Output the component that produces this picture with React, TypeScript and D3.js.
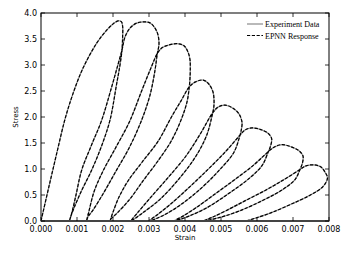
import React from "react";
import * as d3 from "d3";

// strain values are in units of 1e-3, stress as read off the plot
// each cycle: reload from residual strain, over the peak, unload to next residual
const cycle1 = [
  [0, 0], [0.22, 0.66], [0.45, 1.34], [0.667, 1.96], [0.889, 2.45], [1.167, 2.94],
  [1.547, 3.42], [1.825, 3.67], [2.0, 3.79], [2.147, 3.85], [2.236, 3.83], [2.269, 3.73],
  [2.267, 3.54], [2.25, 3.29], [2.194, 3.0], [2.097, 2.62], [1.917, 1.94], [1.681, 1.44],
  [1.408, 0.98], [1.111, 0.56], [0.917, 0.25], [0.833, 0.1], [0.79, 0],
];
const cycle2 = [
  [0.861, 0.17], [0.972, 0.5], [1.131, 0.98], [1.403, 1.46], [1.686, 1.94], [1.972, 2.6],
  [2.111, 2.94], [2.25, 3.29], [2.333, 3.54], [2.472, 3.71], [2.639, 3.8], [2.833, 3.83],
  [3.028, 3.81], [3.167, 3.71], [3.25, 3.58], [3.278, 3.42], [3.264, 3.33], [3.231, 3.22],
  [3.167, 2.9], [3.028, 2.42], [2.778, 1.91], [2.444, 1.4], [2.083, 0.96], [1.722, 0.52],
  [1.444, 0.21], [1.306, 0.08], [1.264, 0],
];
const cycle3 = [
  [1.333, 0.19], [1.472, 0.56], [1.722, 0.96], [2.083, 1.42], [2.458, 1.91], [2.806, 2.52],
  [3.028, 2.9], [3.231, 3.22], [3.361, 3.33], [3.528, 3.38], [3.778, 3.41], [3.972, 3.37],
  [4.083, 3.25], [4.139, 3.1], [4.147, 2.94], [4.139, 2.75], [4.119, 2.58], [4.056, 2.29],
  [3.889, 1.94], [3.611, 1.53], [3.222, 1.13], [2.833, 0.77], [2.444, 0.4], [2.111, 0.15],
  [1.944, 0.04], [1.917, 0],
];
const cycle4 = [
  [2.0, 0.17], [2.167, 0.46], [2.417, 0.77], [2.806, 1.13], [3.25, 1.53], [3.639, 2.02],
  [3.889, 2.31], [4.119, 2.58], [4.278, 2.67], [4.508, 2.71], [4.667, 2.63], [4.778, 2.48],
  [4.806, 2.33], [4.8, 2.19], [4.769, 2.08], [4.611, 1.665], [4.306, 1.25], [3.861, 0.833],
  [3.306, 0.417], [2.806, 0.146], [2.5, 0],
];
const cycle5 = [
  [2.667, 0.146], [3.0, 0.417], [3.528, 0.833], [4.028, 1.25], [4.417, 1.665], [4.769, 2.08],
  [4.917, 2.19], [5.111, 2.23], [5.333, 2.17], [5.5, 2.06], [5.583, 1.9], [5.569, 1.77],
  [5.528, 1.65], [5.361, 1.323], [4.972, 0.992], [4.5, 0.662], [3.917, 0.331], [3.417, 0.115],
  [3.0, 0],
];
const cycle6 = [
  [3.222, 0.115], [3.611, 0.331], [4.139, 0.662], [4.639, 0.992], [5.111, 1.323], [5.528, 1.65],
  [5.667, 1.75], [5.861, 1.79], [6.139, 1.75], [6.333, 1.67], [6.408, 1.58], [6.375, 1.44],
  [6.314, 1.333], [6.139, 1.065], [5.75, 0.8], [5.222, 0.533], [4.639, 0.267], [4.111, 0.094],
  [3.694, 0],
];
const cycle7 = [
  [3.944, 0.094], [4.333, 0.267], [4.861, 0.533], [5.389, 0.8], [5.889, 1.065], [6.314, 1.333],
  [6.472, 1.42], [6.694, 1.47], [6.972, 1.42], [7.167, 1.35], [7.278, 1.25], [7.264, 1.12],
  [7.194, 0.99], [7.056, 0.796], [6.694, 0.596], [6.167, 0.398], [5.528, 0.198], [4.972, 0.069],
  [4.5, 0],
];
const cycle8 = [
  [4.75, 0.069], [5.139, 0.198], [5.694, 0.398], [6.25, 0.596], [6.75, 0.796], [7.194, 0.99],
  [7.361, 1.06], [7.583, 1.08], [7.778, 1.04], [7.889, 0.94], [7.958, 0.83], [7.833, 0.662],
  [7.472, 0.496], [6.972, 0.331], [6.417, 0.165], [5.972, 0.058], [5.694, 0],
];

const xTicks = [0, 0.001, 0.002, 0.003, 0.004, 0.005, 0.006, 0.007, 0.008];
const yTicks = [0, 0.5, 1.0, 1.5, 2.0, 2.5, 3.0, 3.5, 4.0];
const seriesNames = ["Experiment Data", "EPNN Response"];

const W = 346;
const H = 260;
const left = 41, right = 329, top = 13, bottom = 221;
const tickFont = "DejaVu Sans, sans-serif";

export default function App() {
  const x = d3.scaleLinear().domain([0, 0.008]).range([left, right]);
  const y = d3.scaleLinear().domain([0, 4]).range([bottom, top]);

  const data = [cycle1, cycle2, cycle3, cycle4, cycle5, cycle6, cycle7, cycle8].flat();

  const line = d3
    .line<number[]>()
    .x((d) => x(d[0] / 1000))
    .y((d) => y(d[1]))
    .curve(d3.curveCatmullRom.alpha(0.5));
  const d = line(data) || "";

  const fx = d3.format(".3f");
  const fy = d3.format(".1f");

  return (
    <svg
      width={W}
      height={H}
      style={{ position: "absolute", left: 0, top: 0, background: "#fff" }}
    >
      <defs>
        <clipPath id="plot">
          <rect x={left} y={top - 2} width={right - left} height={bottom - top + 2} />
        </clipPath>
      </defs>

      {/* curves */}
      <g clipPath="url(#plot)">
        <path d={d} fill="none" stroke="#8a8a8a" strokeWidth={1.2} />
        <path d={d} fill="none" stroke="#000" strokeWidth={1.2} strokeDasharray="3.2,1.6" />
      </g>

      {/* frame */}
      <rect x={left} y={top} width={right - left} height={bottom - top} fill="none" stroke="#000" strokeWidth={1} />
      <line x1={left} x2={right} y1={bottom} y2={bottom} stroke="#444" strokeWidth={2.2} />

      {/* x ticks */}
      {xTicks.map((t) => (
        <g key={"x" + t}>
          <line x1={x(t)} x2={x(t)} y1={bottom} y2={bottom - 4} stroke="#000" strokeWidth={0.8} />
          <line x1={x(t)} x2={x(t)} y1={top} y2={top + 4} stroke="#000" strokeWidth={0.8} />
          <text x={x(t)} y={bottom + 10.5} textAnchor="middle" fontFamily={tickFont} fontSize={8}>
            {fx(t)}
          </text>
        </g>
      ))}

      {/* y ticks */}
      {yTicks.map((t) => (
        <g key={"y" + t}>
          <line x1={left} x2={left + 4} y1={y(t)} y2={y(t)} stroke="#000" strokeWidth={0.8} />
          <line x1={right} x2={right - 4} y1={y(t)} y2={y(t)} stroke="#000" strokeWidth={0.8} />
          <text x={37} y={y(t) + 3} textAnchor="end" fontFamily={tickFont} fontSize={8}>
            {fy(t)}
          </text>
        </g>
      ))}

      {/* axis labels */}
      <text x={(left + right) / 2} y={239.5} textAnchor="middle" fontFamily={tickFont} fontSize={7}>
        Strain
      </text>
      <text
        transform={`translate(17.5,${(top + bottom) / 2}) rotate(-90)`}
        textAnchor="middle"
        fontFamily={tickFont}
        fontSize={7}
      >
        Stress
      </text>

      {/* legend */}
      <g fontFamily="Liberation Serif, Times New Roman, serif" fontSize={8}>
        <line x1={247} x2={263} y1={24} y2={24} stroke="#8a8a8a" strokeWidth={1.2} />
        <text x={265} y={27}>{seriesNames[0]}</text>
        <line x1={247} x2={263} y1={35.5} y2={35.5} stroke="#000" strokeWidth={1.2} strokeDasharray="3.2,1.6" />
        <text x={265} y={38.5}>{seriesNames[1]}</text>
      </g>
    </svg>
  );
}
